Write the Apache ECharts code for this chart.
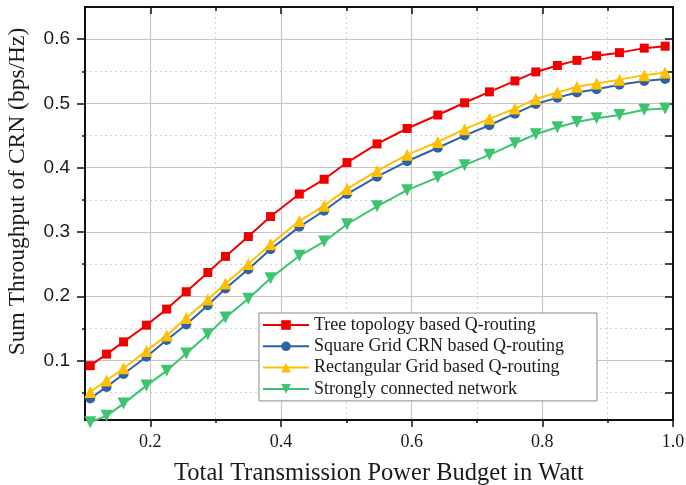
<!DOCTYPE html>
<html><head><meta charset="utf-8">
<script src="https://cdn.jsdelivr.net/npm/echarts@6/dist/echarts.min.js"></script>
<style>html,body{margin:0;padding:0;background:#fff}#c{width:686px;height:485px}</style>
</head><body><div id="c"></div>
<script>
// Shared x positions (Total Transmission Power Budget in Watt)
const powerBudget = [0.108,0.133,0.159,0.194,0.225,0.255,0.288,0.315,0.350,0.384,0.428,0.466,0.501,0.547,0.593,0.640,0.681,0.719,0.758,0.790,0.823,0.853,0.883,0.918,0.956,0.988];
const treeQ   = [0.092,0.110,0.129,0.155,0.180,0.207,0.237,0.262,0.293,0.324,0.359,0.382,0.408,0.437,0.461,0.482,0.501,0.518,0.535,0.549,0.559,0.567,0.574,0.579,0.586,0.589];
const squareQ = [0.041,0.059,0.079,0.106,0.132,0.156,0.186,0.212,0.242,0.273,0.308,0.333,0.359,0.386,0.410,0.431,0.450,0.466,0.484,0.499,0.509,0.517,0.522,0.529,0.535,0.538];
const rectQ   = [0.051,0.069,0.088,0.115,0.139,0.166,0.195,0.220,0.250,0.281,0.317,0.341,0.367,0.395,0.420,0.440,0.460,0.476,0.492,0.507,0.517,0.526,0.531,0.537,0.544,0.548];
const strongQ = [0.004,0.014,0.033,0.061,0.084,0.111,0.141,0.167,0.196,0.228,0.263,0.285,0.312,0.340,0.365,0.385,0.404,0.420,0.438,0.452,0.463,0.471,0.477,0.482,0.490,0.492];
const seriesNames = ['Tree topology based Q-routing','Square Grid CRN based Q-routing','Rectangular Grid based Q-routing','Strongly connected network'];
const xMajorTicks = [0.2,0.4,0.6,0.8,1.0];
const xMinorTicks = [0.3,0.5,0.7,0.9];
const yMajorTicks = [0.1,0.2,0.3,0.4,0.5,0.6];
const yMinorTicks = [0.05,0.15,0.25,0.35,0.45,0.55];
const yAllTicks = [0.05,0.1,0.15,0.2,0.25,0.3,0.35,0.4,0.45,0.5,0.55,0.6];

const X_MIN = 0.1, X_MAX = 1.0, Y_MIN = 0.0075, Y_MAX = 0.65;
const black = '#111';
const pair = ys => powerBudget.map((x,i)=>[x, ys[i]]);

function xAx(o){ return Object.assign({type:'value', min:X_MIN, max:X_MAX, axisLine:{show:false}, axisTick:{show:false}, axisLabel:{show:false}, splitLine:{show:false}}, o); }
function yAx(o){ return Object.assign({type:'value', min:Y_MIN, max:Y_MAX, axisLine:{show:false}, axisTick:{show:false}, axisLabel:{show:false}, splitLine:{show:false}}, o); }

const chart = echarts.init(document.getElementById('c'), null, {renderer:'canvas'});
chart.setOption({
  animation:false,
  backgroundColor:'#fff',
  grid:{left:85, right:13, top:7, bottom:65, containLabel:false, outerBoundsMode:'none'},
  xAxis:[
    xAx({position:'bottom',
      axisLine:{show:true, onZero:false, lineStyle:{color:black, width:2}},
      axisTick:{show:true, inside:false, length:7, customValues:xMajorTicks, lineStyle:{color:black, width:1.5}},
      axisLabel:{show:true, customValues:xMajorTicks, margin:13, formatter:v=>v.toFixed(1), fontFamily:'Liberation Serif', fontSize:18, color:'#1a1a1a'},
      splitLine:{show:true, lineStyle:{color:'#c6c6c6', width:1.2}},
      name:'Total Transmission Power Budget in Watt', nameLocation:'middle', nameGap:41,
      nameTextStyle:{fontFamily:'Liberation Serif', fontSize:24.5, color:'#1a1a1a'}}),
    xAx({position:'bottom',
      axisTick:{show:true, inside:false, length:3, customValues:xMinorTicks, lineStyle:{color:black, width:1.5}},
      splitLine:{show:true, lineStyle:{color:'#d4d4d4', width:1, type:[2,3]}}}),
    xAx({position:'top',
      axisLine:{show:true, onZero:false, lineStyle:{color:black, width:2}},
      axisTick:{show:true, inside:true, length:7, customValues:xMajorTicks, lineStyle:{color:black, width:1.5}}}),
    xAx({position:'top',
      axisTick:{show:true, inside:true, length:4, customValues:xMinorTicks, lineStyle:{color:black, width:1.5}}})
  ],
  yAxis:[
    yAx({position:'left',
      axisLine:{show:true, onZero:false, lineStyle:{color:black, width:2}},
      axisTick:{show:true, inside:false, length:8, customValues:yMajorTicks, lineStyle:{color:black, width:1.5}},
      axisLabel:{show:true, customValues:yMajorTicks, margin:15, formatter:v=>v.toFixed(1), fontFamily:'Liberation Sans', fontSize:19, color:'#1a1a1a'},
      splitLine:{show:true, lineStyle:{color:'#c6c6c6', width:1.2}},
      name:'Sum Throughput of CRN (bps/Hz)', nameLocation:'middle', nameGap:55,
      nameTextStyle:{fontFamily:'Liberation Serif', fontSize:23.5, color:'#1a1a1a', padding:[0,0,0,44]}}),
    yAx({position:'left',
      axisTick:{show:true, inside:false, length:3, customValues:yMinorTicks, lineStyle:{color:black, width:1.5}},
      splitLine:{show:true, lineStyle:{color:'#d4d4d4', width:1, type:[2,3]}}}),
    yAx({position:'right',
      axisLine:{show:true, onZero:false, lineStyle:{color:black, width:2}},
      axisTick:{show:true, inside:true, length:8, customValues:yAllTicks, lineStyle:{color:black, width:1.5}}})
  ],
  legend:{
    orient:'vertical', left:259, top:313,
    backgroundColor:'#fff', borderColor:'#8a8a8a', borderWidth:1, borderRadius:0,
    padding:[3,33,3,3], itemGap:3.3, itemWidth:46, itemHeight:12,
    textStyle:{fontFamily:'Liberation Serif', fontSize:18, color:'#1a1a1a'},
    data:seriesNames
  },
  series:[
    {name:seriesNames[0], type:'line', data:pair(treeQ), symbol:'rect', symbolSize:9,
     itemStyle:{color:'#f20000'}, lineStyle:{color:'#f20000', width:2}},
    {name:seriesNames[1], type:'line', data:pair(squareQ), symbol:'circle', symbolSize:10,
     itemStyle:{color:'#2f62a3'}, lineStyle:{color:'#2f62a3', width:2}},
    {name:seriesNames[2], type:'line', data:pair(rectQ), symbol:'triangle', symbolSize:12,
     itemStyle:{color:'#ffc000'}, lineStyle:{color:'#ffc000', width:2}},
    {name:seriesNames[3], type:'line', data:pair(strongQ), symbol:'triangle', symbolRotate:180, symbolSize:12, clip:false,
     itemStyle:{color:'#3cc46e'}, lineStyle:{color:'#3cc46e', width:2}}
  ]
});
</script></body></html>
